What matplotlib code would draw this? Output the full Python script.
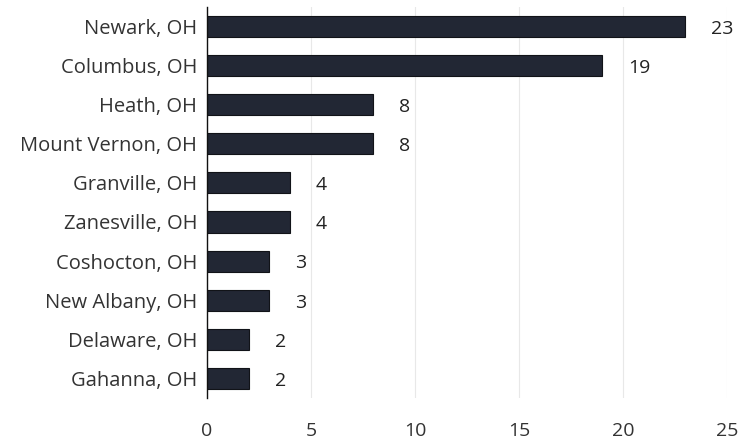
import matplotlib
matplotlib.use("Agg")
import matplotlib.pyplot as plt

cities = ["Newark, OH", "Columbus, OH", "Heath, OH", "Mount Vernon, OH", "Granville, OH",
          "Zanesville, OH", "Coshocton, OH", "New Albany, OH", "Delaware, OH", "Gahanna, OH"]
counts = [23, 19, 8, 8, 4, 4, 3, 3, 2, 2]
xticks = [0, 5, 10, 15, 20, 25]

plt.rcParams['font.family'] = ['Open Sans', 'DejaVu Sans']

fig = plt.figure(figsize=(7.47, 4.41), dpi=100)
ax = fig.add_axes([0.277, 0.0975, 0.696, 0.887])

y = list(range(len(cities)))
ax.barh(y, counts, height=0.54, color="#222734", edgecolor="#111318", linewidth=0.8, zorder=3)
for yi, v in zip(y, counts):
    ax.text(v + 1.25, yi + 0.06, str(v), va="center", ha="left", fontsize=14, color="#222222")

ax.set_yticks(y)
ax.set_yticklabels(cities, fontsize=14.5, color="#333333")
ax.set_ylim(9.5, -0.5)
ax.set_xlim(0, 25)
ax.set_xticks(xticks)
ax.set_xticklabels([str(t) for t in xticks], fontsize=14, color="#333333")
ax.tick_params(axis="both", length=0)
ax.tick_params(axis="x", pad=17)
ax.tick_params(axis="y", pad=7)
ax.grid(axis="x", color="#e8e8e8", linewidth=0.8, zorder=0)
for s in ["top", "right", "bottom"]:
    ax.spines[s].set_visible(False)
ax.spines["left"].set_color("#111111")
ax.spines["left"].set_linewidth(1.0)
ax.spines["left"].set_zorder(4)

fig.savefig("out.png", dpi=100)
